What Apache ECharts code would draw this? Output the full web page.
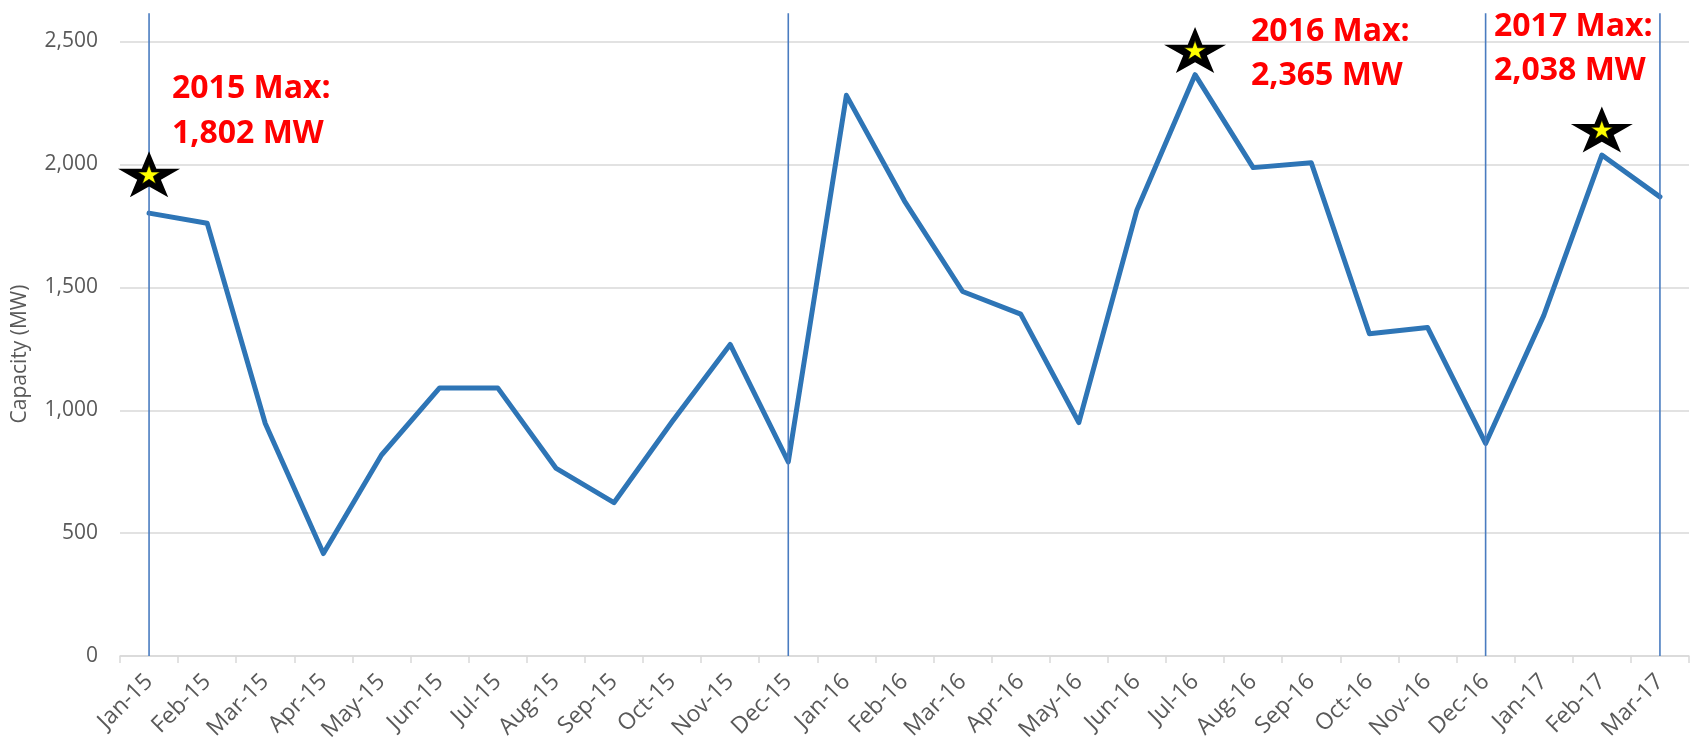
<!DOCTYPE html>
<html>
<head>
<meta charset="utf-8">
<script src="https://cdn.jsdelivr.net/npm/echarts@6/dist/echarts.min.js"></script>
<style>
  html, body { margin: 0; padding: 0; background: #ffffff; }
  #chart { width: 1692px; height: 744px; }
</style>
</head>
<body>
<div id="chart"></div>
<script>
// ---- data ----
const months = ['Jan-15','Feb-15','Mar-15','Apr-15','May-15','Jun-15','Jul-15','Aug-15','Sep-15','Oct-15','Nov-15','Dec-15',
                'Jan-16','Feb-16','Mar-16','Apr-16','May-16','Jun-16','Jul-16','Aug-16','Sep-16','Oct-16','Nov-16','Dec-16',
                'Jan-17','Feb-17','Mar-17'];
const capacityMW = [1802,1761,946,417,818,1091,1091,765,624,953,1268,790,
                    2281,1851,1483,1391,950,1815,2365,1987,2007,1311,1337,865,
                    1385,2038,1868];
const yTicks = [0,500,1000,1500,2000,2500];
const dividerMonths = ['Jan-15','Dec-15','Dec-16','Mar-17'];
const dividerTopMW = 2615;
const starMonths = ['Jan-15','Jul-16','Feb-17'];
const starMW = [1960,2465,2142];
const annotations = [['2015 Max:','1,802 MW'],['2016 Max:','2,365 MW'],['2017 Max:','2,038 MW']];
const yAxisTitle = 'Capacity (MW)';

// ---- helpers ----
function starPath(inner) {
  const pts = [];
  for (let i = 0; i < 10; i++) {
    const a = -Math.PI / 2 + i * Math.PI / 5;
    const r = (i % 2) ? inner : 1;
    pts.push((r * Math.cos(a) * 100).toFixed(3) + ' ' + (r * Math.sin(a) * 100).toFixed(3));
  }
  return 'path://M' + pts.join(' L ') + ' Z';
}
const STAR = starPath(0.382);
const FONT = '"Open Sans", "Liberation Sans", sans-serif';
const GRAY = '#595959';

const chart = echarts.init(document.getElementById('chart'), null, { renderer: 'canvas' });

const dividerSeries = dividerMonths.map(m => ({
  type: 'line',
  data: [[m, 0], [m, dividerTopMW]],
  symbol: 'none',
  clip: false,
  silent: true,
  z: 3,
  lineStyle: { color: '#4A7CC0', width: 1.6 }
}));

const annPos = [[172, 89, 134], [1251, 32, 76], [1494, 27, 71]];
const graphics = [];
annotations.forEach((lines, i) => {
  lines.forEach((t, j) => {
    graphics.push({
      type: 'text',
      x: annPos[i][0],
      y: annPos[i][j + 1],
      z: 10,
      style: {
        text: t,
        fill: '#FF0000',
        font: 'bold 32px ' + FONT,
        textAlign: 'left',
        textVerticalAlign: 'middle'
      }
    });
  });
});
graphics.push({
  type: 'text',
  x: 20, y: 354,
  rotation: Math.PI / 2,
  style: {
    text: yAxisTitle,
    fill: GRAY,
    font: '21px ' + FONT,
    textAlign: 'center',
    textVerticalAlign: 'middle'
  }
});

const option = {
  animation: false,
  backgroundColor: '#ffffff',
  grid: { left: 120, right: 3, top: 41.5, bottom: 81.5, containLabel: false },
  xAxis: {
    type: 'category',
    data: months,
    boundaryGap: true,
    axisLine: { show: true, lineStyle: { color: '#D9D9D9', width: 1.5 } },
    axisTick: { show: true, interval: 0, length: 7, lineStyle: { color: '#D9D9D9', width: 1.5 } },
    axisLabel: { interval: 0, rotate: 45, margin: 22, fontSize: 23, color: GRAY, fontFamily: FONT },
    splitLine: { show: false }
  },
  yAxis: {
    type: 'value',
    min: yTicks[0],
    max: yTicks[yTicks.length - 1],
    interval: yTicks[1] - yTicks[0],
    axisLine: { show: false },
    axisTick: { show: false },
    axisLabel: {
      margin: 22, fontSize: 21, color: GRAY, fontFamily: FONT,
      formatter: v => v.toLocaleString('en-US')
    },
    splitLine: { show: true, lineStyle: { color: '#D9D9D9', width: 1.5 } }
  },
  series: [
    {
      type: 'line',
      data: capacityMW,
      symbol: 'none',
      z: 2,
      lineStyle: { color: '#2E75B6', width: 5, cap: 'round', join: 'round' }
    },
    ...dividerSeries,
    {
      type: 'scatter',
      data: starMonths.map((m, i) => [m, starMW[i]]),
      symbol: STAR,
      symbolSize: [62, 46],
      symbolKeepAspect: false,
      clip: false,
      silent: true,
      z: 5,
      itemStyle: { color: '#000000', opacity: 1 }
    },
    {
      type: 'scatter',
      data: starMonths.map((m, i) => [m, starMW[i]]),
      symbol: STAR,
      symbolSize: [22, 19],
      symbolKeepAspect: false,
      clip: false,
      silent: true,
      z: 6,
      itemStyle: { color: '#FFFF00', opacity: 1, borderColor: '#000000', borderWidth: 0.6 }
    }
  ],
  graphic: graphics
};
chart.setOption(option);
</script>
</body>
</html>
